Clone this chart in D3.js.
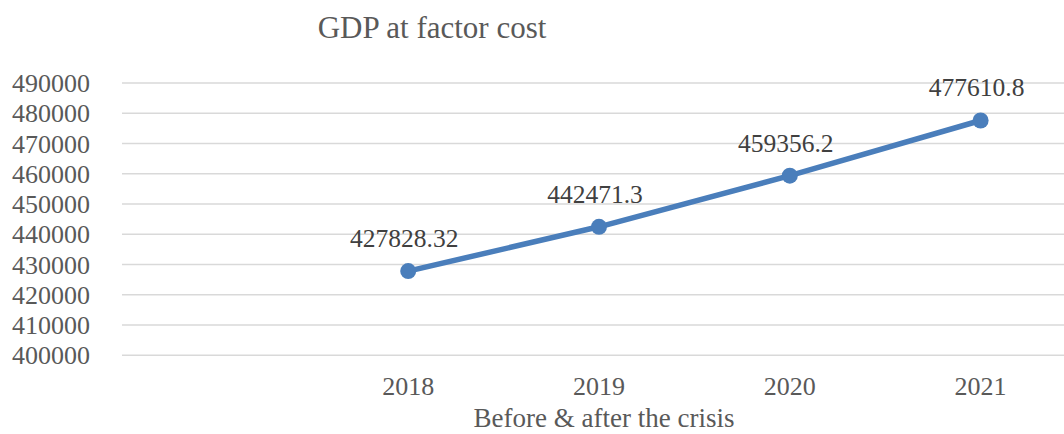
<!DOCTYPE html>
<html>
<head>
<meta charset="utf-8">
<script src="https://cdn.jsdelivr.net/npm/d3@7"></script>
<style>
  html, body { margin: 0; padding: 0; background: #fff; }
  svg { display: block; }
  text { font-family: "Liberation Serif", "Times New Roman", serif; }
</style>
</head>
<body>
<svg id="chart" width="1064" height="434"></svg>
<script>
// GDP at factor cost, by year
const years = ["2018", "2019", "2020", "2021"];
const gdpValues = [427828.32, 442471.3, 459356.2, 477610.8];
const valueLabels = ["427828.32", "442471.3", "459356.2", "477610.8"];
const yTicks = [400000, 410000, 420000, 430000, 440000, 450000, 460000, 470000, 480000, 490000];

const titleText = "GDP at factor cost";
const xAxisTitle = "Before & after the crisis";

const W = 1064, H = 434;
const plot = { left: 122, right: 1076, top: 83, bottom: 355.3 };

const svg = d3.select("#chart");

// first band is left empty, so the years occupy the last four slots
const x = d3.scaleBand()
  .domain(years)
  .range([plot.left + (plot.right - plot.left) / 5, plot.right])
  .paddingInner(0).paddingOuter(0);

const y = d3.scaleLinear()
  .domain([400000, 490000])
  .range([plot.bottom, plot.top]);

const cx = d => x(d) + x.bandwidth() / 2;

// horizontal gridlines
svg.append("g")
  .selectAll("line")
  .data(yTicks)
  .join("line")
  .attr("x1", plot.left)
  .attr("x2", W)
  .attr("y1", d => y(d))
  .attr("y2", d => y(d))
  .attr("stroke", "#d9d9d9")
  .attr("stroke-width", 1.4);

// y axis labels
svg.append("g")
  .selectAll("text")
  .data(yTicks)
  .join("text")
  .attr("x", 90)
  .attr("y", d => y(d))
  .attr("dy", "0.35em")
  .attr("text-anchor", "end")
  .attr("font-size", 26)
  .attr("fill", "#595959")
  .text(d => d);

// x axis labels
svg.append("g")
  .selectAll("text")
  .data(years)
  .join("text")
  .attr("x", d => cx(d))
  .attr("y", 395)
  .attr("text-anchor", "middle")
  .attr("font-size", 26)
  .attr("fill", "#595959")
  .text(d => d);

// series line
const line = d3.line()
  .x((d, i) => cx(years[i]))
  .y(d => y(d));

svg.append("path")
  .datum(gdpValues)
  .attr("d", line)
  .attr("fill", "none")
  .attr("stroke", "#4a7ebb")
  .attr("stroke-width", 5.5)
  .attr("stroke-linejoin", "round")
  .attr("stroke-linecap", "round");

// markers
svg.append("g")
  .selectAll("circle")
  .data(gdpValues)
  .join("circle")
  .attr("cx", (d, i) => cx(years[i]))
  .attr("cy", d => y(d))
  .attr("r", 8)
  .attr("fill", "#4a7ebb");

// data labels
svg.append("g")
  .selectAll("text")
  .data(gdpValues)
  .join("text")
  .attr("x", (d, i) => cx(years[i]) - 4)
  .attr("y", d => y(d) - 24)
  .attr("text-anchor", "middle")
  .attr("font-size", 25.5)
  .attr("fill", "#404040")
  .text((d, i) => valueLabels[i]);

// chart title
svg.append("text")
  .attr("x", 432)
  .attr("y", 38)
  .attr("text-anchor", "middle")
  .attr("font-size", 31)
  .attr("fill", "#595959")
  .text(titleText);

// x axis title
svg.append("text")
  .attr("x", 604)
  .attr("y", 427)
  .attr("text-anchor", "middle")
  .attr("font-size", 27)
  .attr("fill", "#595959")
  .text(xAxisTitle);
</script>
</body>
</html>
